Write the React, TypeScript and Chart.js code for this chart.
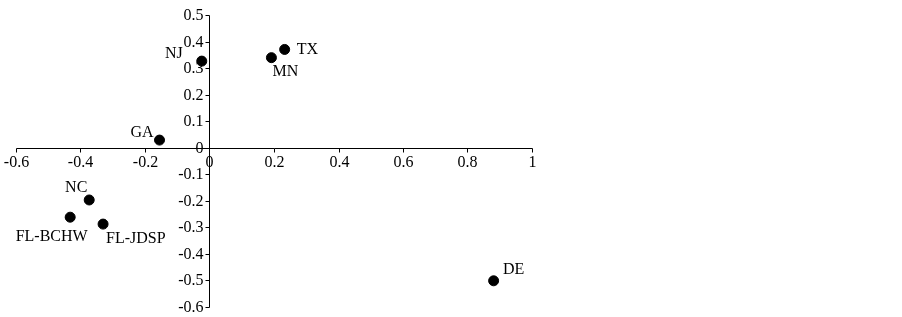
import React, { useEffect, useRef } from "react";
import { Chart, registerables } from "chart.js";

Chart.register(...registerables);

const sites = ["TX", "MN", "NJ", "GA", "NC", "FL-BCHW", "FL-JDSP", "DE"];
const xValues = [0.233, 0.192, -0.024, -0.155, -0.373, -0.432, -0.33, 0.881];
const yValues = [0.37, 0.339, 0.326, 0.028, -0.198, -0.263, -0.289, -0.503];
const xTickLabels = ["-0.6", "-0.4", "-0.2", "0", "0.2", "0.4", "0.6", "0.8", "1"];
const yTickLabels = ["-0.6", "-0.5", "-0.4", "-0.3", "-0.2", "-0.1", "0", "0.1", "0.2", "0.3", "0.4", "0.5"];

// label placement relative to point: [dx, dy, align]
const labelPlacement: Record<string, [number, number, CanvasTextAlign]> = {
  TX: [12, 0, "left"],
  MN: [14, 14, "center"],
  NJ: [-19, -7, "right"],
  GA: [-6, -7.5, "right"],
  NC: [-13, -11.7, "center"],
  "FL-BCHW": [-18.5, 20, "center"],
  "FL-JDSP": [3, 15, "left"],
  DE: [9.4, -11, "left"],
};

const FONT = "'Liberation Serif', 'Times New Roman', serif";

// Crossing axes drawn at x=0 / y=0 using the chart's own scales
const crossAxesPlugin = {
  id: "crossAxes",
  afterDatasetsDraw(chart: any) {
    const ctx = chart.ctx;
    const xs = chart.scales.x;
    const ys = chart.scales.y;
    const ax = Math.round(xs.getPixelForValue(0)) + 0.5;
    const ay = Math.round(ys.getPixelForValue(0)) + 0.5;
    ctx.save();
    ctx.strokeStyle = "#000";
    ctx.fillStyle = "#000";
    ctx.lineWidth = 1;
    ctx.beginPath();
    ctx.moveTo(Math.round(xs.left) + 0.5, ay);
    ctx.lineTo(Math.round(xs.right) + 0.5, ay);
    ctx.moveTo(ax, Math.round(ys.top) + 0.5);
    ctx.lineTo(ax, Math.round(ys.bottom) + 0.5);
    ctx.stroke();
    ctx.font = `16px ${FONT}`;
    // x ticks
    ctx.textAlign = "center";
    ctx.textBaseline = "top";
    xs.ticks.forEach((t: any, i: number) => {
      const px = Math.round(xs.getPixelForValue(t.value)) + 0.5;
      ctx.beginPath();
      ctx.moveTo(px, ay);
      ctx.lineTo(px, ay + 4);
      ctx.stroke();
      ctx.fillText(xTickLabels[i], px, ay + 6);
    });
    // y ticks
    ctx.textAlign = "right";
    ctx.textBaseline = "middle";
    ys.ticks.forEach((t: any, i: number) => {
      const py = Math.round(ys.getPixelForValue(t.value)) + 0.5;
      ctx.beginPath();
      ctx.moveTo(ax - 4, py);
      ctx.lineTo(ax, py);
      ctx.stroke();
      ctx.fillText(yTickLabels[i], ax - 6, py);
    });
    ctx.restore();
  },
};

const labelPlugin = {
  id: "pointLabels",
  afterDatasetsDraw(chart: any) {
    const ctx = chart.ctx;
    const meta = chart.getDatasetMeta(0);
    ctx.save();
    ctx.font = `16px ${FONT}`;
    ctx.fillStyle = "#000";
    ctx.textBaseline = "middle";
    meta.data.forEach((pt: any, i: number) => {
      const name = sites[i];
      const [dx, dy, align] = labelPlacement[name] || [8, -8, "left"];
      ctx.textAlign = align;
      ctx.fillText(name, pt.x + dx, pt.y + dy);
    });
    ctx.restore();
  },
};

export default function App() {
  const ref = useRef<HTMLCanvasElement | null>(null);
  useEffect(() => {
    if (!ref.current) return;
    const chart = new Chart(ref.current, {
      type: "scatter",
      data: {
        datasets: [
          {
            data: xValues.map((x, i) => ({ x, y: yValues[i] })),
            backgroundColor: "#000",
            borderColor: "#000",
            pointRadius: 5,
            pointHoverRadius: 5,
          },
        ],
      },
      options: {
        animation: false,
        responsive: false,
        devicePixelRatio: 1,
        layout: { padding: { left: 16, right: 370, top: 15, bottom: 10.5 } },
        plugins: { legend: { display: false }, tooltip: { enabled: false } },
        scales: {
          x: {
            type: "linear",
            min: -0.6,
            max: 1,
            display: false,
            ticks: { stepSize: 0.2 },
          },
          y: {
            type: "linear",
            min: -0.6,
            max: 0.5,
            display: false,
            ticks: { stepSize: 0.1 },
          },
        },
      },
      plugins: [crossAxesPlugin, labelPlugin],
    });
    return () => chart.destroy();
  }, []);
  return (
    <div style={{ position: "absolute", left: 0, top: 0, width: 902, height: 317, background: "#fff" }}>
      <canvas ref={ref} width={902} height={317} style={{ width: 902, height: 317 }} />
    </div>
  );
}
